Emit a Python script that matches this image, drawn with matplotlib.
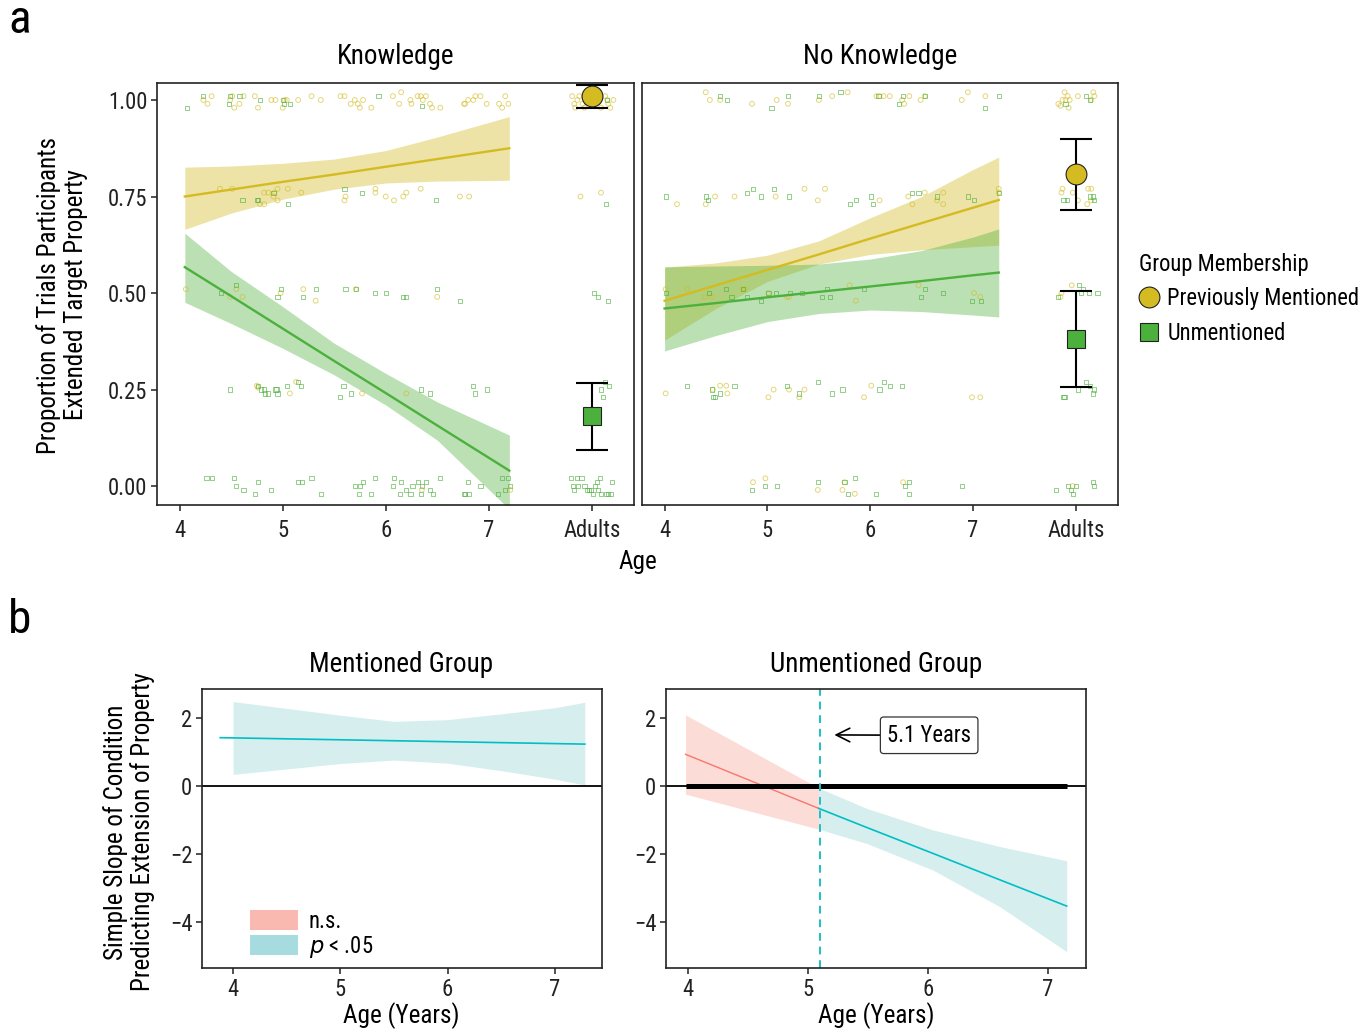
import matplotlib
matplotlib.use('Agg')
import matplotlib.pyplot as plt
from matplotlib import font_manager
from matplotlib.patches import Patch
from matplotlib.lines import Line2D

# the original uses a condensed grotesque; take the narrowest installed sans
installed = sorted({f.name for f in font_manager.fontManager.ttflist})
narrow = [n for n in ['Liberation Sans Narrow', 'Roboto Condensed', 'Open Sans Condensed',
                      'DejaVu Sans Condensed'] if n in installed]
narrow += [n for n in installed if ('Narrow' in n or 'Condensed' in n) and n not in narrow]
if narrow:
    FONT = narrow[0]
    FS = 0.93
else:
    FONT = 'Liberation Sans'
    FS = 0.82
plt.rcParams['font.family'] = [FONT, 'DejaVu Sans']

# ---------------- panel a: raw trials (jittered) ----------------
# Knowledge condition, previously mentioned (circles)
k_ment_x = [4.23, 4.27, 4.31, 4.49, 4.51, 4.53, 4.58, 4.62, 4.73, 4.76, 4.89, 4.93, 5.00, 5.02, 5.04, 5.15,
            5.28, 5.37, 5.56, 5.60, 5.66, 5.70, 5.73, 5.75, 5.78, 5.86, 6.07, 6.13, 6.15, 6.24, 6.25, 6.31,
            6.34, 6.36, 6.39, 6.43, 6.45, 6.53, 6.76, 6.77, 6.80, 6.85, 6.87, 6.92, 6.98, 7.10, 7.13, 7.16,
            7.19, 7.81, 7.83, 7.84, 7.86, 7.88, 7.91, 7.93, 7.96, 7.99, 8.03, 8.06, 8.09, 8.13, 8.15, 8.16,
            8.18, 8.21,
            4.39, 4.51, 4.82, 4.86, 4.91, 4.92, 4.95, 5.05, 5.18, 4.78, 4.82, 4.95, 5.60, 5.61, 5.90, 5.90,
            6.00, 6.08, 6.17, 6.20, 6.34, 6.72, 6.81, 7.89, 8.09,
            4.06, 4.49, 4.55, 4.61, 4.98, 5.20, 5.32, 5.71, 6.50,
            4.75, 4.76, 5.07, 5.13, 5.77, 6.20,
            6.35, 7.21]
k_ment_y = [1.00, 0.99, 1.01, 1.00, 1.01, 0.98, 0.99, 1.01, 1.01, 0.98, 1.00, 1.00, 0.98, 1.00, 1.00, 1.00,
            1.01, 1.00, 1.01, 1.01, 0.99, 1.00, 0.99, 0.98, 1.00, 0.98, 1.01, 0.99, 1.02, 1.00, 0.99, 1.01,
            1.01, 1.00, 1.01, 0.99, 0.98, 0.98, 0.99, 0.99, 1.00, 1.00, 1.01, 1.01, 0.99, 0.99, 0.98, 1.01,
            0.99, 1.01, 0.99, 0.98, 1.00, 1.01, 0.99, 0.98, 1.00, 1.01, 0.99, 1.00, 0.98, 1.01, 1.00, 0.99,
            0.98, 1.00,
            0.77, 0.77, 0.76, 0.76, 0.75, 0.76, 0.77, 0.77, 0.76, 0.73, 0.73, 0.74, 0.74, 0.75, 0.77, 0.76,
            0.75, 0.74, 0.75, 0.76, 0.77, 0.75, 0.75, 0.75, 0.76,
            0.51, 0.49, 0.51, 0.49, 0.50, 0.51, 0.48, 0.51, 0.49,
            0.26, 0.255, 0.24, 0.27, 0.24, 0.24,
            -0.01, -0.01]
# Knowledge condition, unmentioned (squares)
k_unm_x = [4.07, 4.23, 4.49, 4.48, 4.58, 4.78, 5.00, 5.01, 5.07, 5.93, 6.35, 8.15,
           4.61, 4.75, 4.76, 4.91, 5.05, 5.60, 5.77, 6.49, 8.14,
           4.40, 4.55, 4.95, 4.98, 5.20, 5.32, 5.61, 5.71, 5.90, 6.00, 6.17, 6.20, 6.50, 6.72, 8.02, 8.06, 8.16,
           4.49, 4.76, 4.79, 4.82, 4.83, 4.86, 4.93, 4.94, 4.95, 5.04, 5.15, 5.18, 5.56, 5.59, 5.66, 6.34,
           6.43, 6.85, 6.87, 6.98, 8.09, 8.11, 8.13, 8.17,
           4.26, 4.31, 4.53, 4.55, 4.62, 4.73, 4.76, 4.89, 5.15, 5.19, 5.28, 5.37, 5.70, 5.74, 5.75, 5.78,
           5.86, 5.90, 6.07, 6.08, 6.14, 6.15, 6.20, 6.24, 6.26, 6.31, 6.34, 6.35, 6.39, 6.43, 6.46, 6.53,
           6.76, 6.77, 6.80, 6.81, 6.92, 7.09, 7.13, 7.16, 7.19, 7.21, 7.80, 7.82, 7.83, 7.86, 7.87, 7.90,
           7.93, 7.95, 7.97, 7.99, 8.01, 8.03, 8.05, 8.06, 8.08, 8.09, 8.14, 8.16, 8.19, 8.20]
k_unm_y = [0.98, 1.01, 1.01, 0.99, 1.01, 1.00, 1.00, 0.99, 0.99, 1.01, 0.985, 1.00,
           0.74, 0.74, 0.74, 0.76, 0.73, 0.77, 0.76, 0.74, 0.73,
           0.50, 0.52, 0.49, 0.51, 0.49, 0.51, 0.51, 0.51, 0.50, 0.50, 0.49, 0.49, 0.51, 0.48, 0.50, 0.49, 0.48,
           0.25, 0.26, 0.25, 0.25, 0.24, 0.24, 0.25, 0.25, 0.24, 0.26, 0.27, 0.26, 0.23, 0.26, 0.24, 0.25,
           0.24, 0.26, 0.24, 0.25, 0.25, 0.23, 0.27, 0.26,
           0.02, 0.02, 0.02, 0.00, -0.01, -0.02, 0.01, -0.01, 0.01, 0.01, 0.02, -0.02, 0.00, -0.02, 0.00, 0.01,
           -0.02, 0.02, 0.00, 0.02, -0.02, 0.01, -0.01, -0.02, 0.00, 0.01, -0.02, 0.00, 0.01, -0.01, -0.02, 0.02,
           -0.02, -0.02, 0.01, -0.02, 0.00, -0.02, 0.02, -0.01, 0.02, 0.00, 0.02, 0.00, -0.01, 0.02, 0.00, 0.02,
           0.00, -0.01, -0.01, -0.01, -0.02, 0.00, 0.01, -0.01, 0.02, -0.02, -0.02, -0.02, -0.02, 0.01]

# No Knowledge condition, previously mentioned (circles)
nk_ment_x = [4.40, 4.44, 4.54, 4.85, 5.09, 5.20, 5.50, 5.63, 5.78, 6.06, 6.09, 6.13, 6.19, 6.31, 6.33, 6.38,
             6.49, 6.53, 6.89, 6.95, 7.12, 7.83, 7.85, 7.87, 7.89, 7.90, 7.92, 7.93, 7.94, 8.02, 8.15, 8.17, 8.18,
             4.12, 4.40, 4.49, 4.68, 5.08, 5.36, 5.49, 5.56, 6.09, 6.37, 6.41, 6.53, 6.71, 6.71, 6.65, 7.25,
             7.25, 7.87, 7.86, 7.97, 8.12, 8.15, 8.11, 8.15, 8.02,
             4.01, 4.22, 4.39, 4.46, 4.76, 4.78, 5.01, 5.19, 5.21, 5.80, 5.86, 6.47, 7.01, 7.07, 7.96, 7.85, 7.86,
             4.01, 4.47, 4.54, 4.60, 4.61, 5.01, 5.06, 5.21, 5.31, 5.36, 5.94, 6.01, 6.99, 7.07,
             4.86, 4.98, 5.49, 5.75, 5.73, 5.85, 6.32, 7.97]
nk_ment_y = [1.02, 1.00, 1.00, 0.99, 1.00, 0.99, 1.00, 1.01, 1.02, 1.01, 1.01, 1.01, 1.01, 1.00, 0.99, 1.01,
             1.00, 1.01, 1.00, 1.02, 1.01, 0.99, 0.985, 1.00, 1.02, 1.00, 1.01, 0.98, 1.00, 1.01, 1.00, 1.02, 1.01,
             0.73, 0.73, 0.75, 0.75, 0.75, 0.77, 0.74, 0.77, 0.74, 0.75, 0.73, 0.76, 0.76, 0.73, 0.74, 0.77,
             0.76, 0.77, 0.76, 0.76, 0.77, 0.77, 0.73, 0.74, 0.74,
             0.51, 0.51, 0.49, 0.49, 0.51, 0.51, 0.50, 0.49, 0.49, 0.52, 0.48, 0.52, 0.50, 0.49, 0.52, 0.49, 0.50,
             0.24, 0.25, 0.26, 0.26, 0.24, 0.23, 0.25, 0.25, 0.23, 0.25, 0.23, 0.26, 0.23, 0.23,
             0.01, 0.02, -0.01, 0.01, -0.01, -0.02, 0.01, 0.00]
# No Knowledge condition, unmentioned (squares)
nk_unm_x = [4.54, 4.61, 5.04, 5.20, 5.50, 5.71, 6.08, 6.28, 6.32, 6.53, 7.12, 7.25, 7.90, 8.10, 8.14,
            4.01, 4.40, 4.42, 4.80, 4.86, 4.94, 5.06, 5.21, 5.80, 5.86, 6.01, 6.03, 6.41, 6.47, 6.65, 6.95,
            7.01, 7.25, 7.88, 7.91, 8.14, 8.17, 8.18,
            4.01, 4.43, 4.60, 4.65, 4.76, 4.80, 4.94, 5.01, 5.08, 5.22, 5.34, 5.53, 5.58, 5.61, 5.94, 6.49,
            6.53, 6.71, 6.99, 7.08, 8.03, 8.07, 8.13, 8.05, 8.21, 7.83,
            4.22, 4.46, 4.47, 4.49, 4.54, 4.68, 5.19, 5.31, 5.49, 5.63, 5.73, 6.09, 6.13, 6.19, 6.31, 7.88,
            7.89, 8.10, 8.14, 8.02, 8.17, 8.18,
            4.85, 4.98, 5.09, 5.49, 5.75, 5.78, 5.85, 6.06, 6.34, 6.38, 6.38, 6.89, 7.81, 7.92, 7.95, 7.97,
            8.00, 8.17, 8.18]
nk_unm_y = [1.01, 1.00, 0.98, 1.01, 1.01, 1.02, 1.01, 0.99, 1.01, 1.01, 0.98, 1.01, 0.99, 1.01, 1.00,
            0.75, 0.75, 0.74, 0.76, 0.77, 0.75, 0.77, 0.75, 0.73, 0.74, 0.75, 0.73, 0.76, 0.76, 0.75, 0.75,
            0.74, 0.76, 0.74, 0.74, 0.75, 0.75, 0.74,
            0.50, 0.50, 0.51, 0.49, 0.51, 0.49, 0.48, 0.50, 0.50, 0.50, 0.50, 0.49, 0.51, 0.49, 0.51, 0.49,
            0.51, 0.50, 0.48, 0.48, 0.52, 0.51, 0.50, 0.50, 0.50, 0.49,
            0.26, 0.25, 0.23, 0.23, 0.24, 0.26, 0.26, 0.24, 0.27, 0.24, 0.25, 0.25, 0.27, 0.26, 0.26, 0.23,
            0.23, 0.27, 0.26, 0.25, 0.24, 0.25,
            -0.01, 0.00, 0.00, 0.01, 0.01, -0.02, 0.02, -0.02, 0.00, 0.01, -0.02, 0.00, -0.01, 0.00, -0.01, -0.02,
            0.00, 0.01, 0.00]

# model fits (logistic) with 95% bands
k_age = [4.05, 4.5, 5.0, 5.5, 6.0, 6.5, 7.2]
k_ment_fit = [0.75, 0.768, 0.788, 0.807, 0.827, 0.847, 0.875]
k_ment_lo = [0.665, 0.707, 0.743, 0.769, 0.785, 0.790, 0.792]
k_ment_hi = [0.826, 0.829, 0.836, 0.847, 0.869, 0.904, 0.957]
k_unm_fit = [0.567, 0.492, 0.408, 0.324, 0.241, 0.157, 0.040]
k_unm_lo = [0.476, 0.421, 0.357, 0.288, 0.210, 0.119, -0.060]
k_unm_hi = [0.655, 0.556, 0.465, 0.370, 0.292, 0.218, 0.132]

nk_age = [4.0, 4.5, 5.0, 5.5, 6.0, 6.5, 7.0, 7.25]
nk_ment_fit = [0.48, 0.52, 0.56, 0.60, 0.641, 0.681, 0.721, 0.741]
nk_ment_lo = [0.378, 0.46, 0.53, 0.575, 0.60, 0.612, 0.62, 0.624]
nk_ment_hi = [0.567, 0.578, 0.598, 0.635, 0.695, 0.75, 0.82, 0.852]
nk_unm_fit = [0.46, 0.474, 0.489, 0.503, 0.517, 0.531, 0.546, 0.553]
nk_unm_lo = [0.35, 0.39, 0.426, 0.447, 0.456, 0.452, 0.443, 0.438]
nk_unm_hi = [0.568, 0.57, 0.572, 0.575, 0.588, 0.61, 0.645, 0.666]

# adult means with error bars (mean, lower, upper)
k_adult_ment = (1.01, 0.98, 1.039)
k_adult_unm = (0.181, 0.093, 0.267)
nk_adult_ment = (0.808, 0.715, 0.899)
nk_adult_unm = (0.381, 0.256, 0.505)

# ---------------- panel b: simple slopes ----------------
bm_line_age = [3.88, 7.28]
bm_line_slope = [1.42, 1.23]
bm_band_age = [4.0, 4.5, 5.0, 5.5, 6.0, 6.5, 7.0, 7.28]
bm_band_lo = [0.34, 0.50, 0.66, 0.76, 0.67, 0.45, 0.20, 0.03]
bm_band_hi = [2.48, 2.28, 2.08, 1.90, 1.95, 2.12, 2.30, 2.46]

bu_ns_age = [3.98, 5.09]
bu_ns_slope = [0.93, -0.66]
bu_ns_lo = [-0.24, -1.27]
bu_ns_hi = [2.09, -0.06]
bu_sig_age = [5.09, 5.49, 6.04, 6.6, 7.156]
bu_sig_slope = [-0.66, -1.22, -1.98, -2.76, -3.53]
bu_sig_lo = [-1.27, -1.69, -2.47, -3.55, -4.87]
bu_sig_hi = [-0.06, -0.66, -1.29, -1.78, -2.20]
jn_point = 5.1
age_range = [3.98, 7.156]

age_ticks = [4, 5, 6, 7, 8]
age_labels = ['4', '5', '6', '7', 'Adults']
prop_ticks = [0.0, 0.25, 0.5, 0.75, 1.0]
prop_labels = ['0.00', '0.25', '0.50', '0.75', '1.00']
slope_ticks = [2, 0, -2, -4]

YEL = '#D4BB22'
GRN = '#4CB03C'
RED = '#F8766D'
TEAL = '#00BFC4'
RED_BAND = '#FCDCD6'
TEAL_BAND = '#D7EEEE'
SPINE = '#222222'

W, H = 1369, 1032
fig = plt.figure(figsize=(W / 100, H / 100), dpi=100)


def box(x0, y0, x1, y1):
    return [x0 / W, 1 - y1 / H, (x1 - x0) / W, (y1 - y0) / H]


def fx(px):
    return px / W


def fy(py):
    return 1 - py / H


def style(ax):
    for s in ax.spines.values():
        s.set_color(SPINE)
        s.set_linewidth(1.2)
    ax.tick_params(length=4, width=1.1, color=SPINE, labelsize=17.5 * FS, pad=3, labelcolor='#222222')


ax1 = fig.add_axes(box(157, 83, 634, 505))
ax2 = fig.add_axes(box(642, 83, 1118, 505))

panels = [
    (ax1, k_age, k_ment_fit, k_ment_lo, k_ment_hi, k_unm_fit, k_unm_lo, k_unm_hi,
     k_ment_x, k_ment_y, k_unm_x, k_unm_y, k_adult_ment, k_adult_unm),
    (ax2, nk_age, nk_ment_fit, nk_ment_lo, nk_ment_hi, nk_unm_fit, nk_unm_lo, nk_unm_hi,
     nk_ment_x, nk_ment_y, nk_unm_x, nk_unm_y, nk_adult_ment, nk_adult_unm),
]
for (ax, age, mf, ml, mh, uf, ul, uh, mx, my, ux, uy, am, au) in panels:
    ax.fill_between(age, ml, mh, color=YEL, alpha=0.4, lw=0, zorder=1)
    ax.fill_between(age, ul, uh, color=GRN, alpha=0.38, lw=0, zorder=1)
    ax.plot(age, mf, color=YEL, lw=1.7, zorder=3)
    ax.plot(age, uf, color=GRN, lw=1.7, zorder=3)
    ax.scatter(mx, my, s=12, marker='o', facecolors='none', edgecolors=YEL, linewidths=0.7, alpha=0.6, zorder=2)
    ax.scatter(ux, uy, s=9, marker='s', facecolors='none', edgecolors=GRN, linewidths=0.7, alpha=0.6, zorder=2)
    for vals, mk, col, ms in [(am, 'o', YEL, 15), (au, 's', GRN, 13.5)]:
        ax.errorbar([8], [vals[0]], yerr=[[vals[0] - vals[1]], [vals[2] - vals[0]]], fmt='none',
                    ecolor='black', elinewidth=1.5, capsize=11.5, capthick=1.5, zorder=5)
        ax.plot([8], [vals[0]], marker=mk, ms=ms, color=col, mec='#222222', mew=0.8, zorder=6)
    ax.set_xlim(3.78, 8.41)
    ax.set_ylim(-0.049, 1.044)
    ax.set_xticks(age_ticks)
    ax.set_xticklabels(age_labels)
    ax.set_yticks(prop_ticks)
    ax.set_yticklabels(prop_labels)
    style(ax)
    ax.tick_params(axis='x', pad=6)
ax2.tick_params(axis='y', left=False, labelleft=False)

fig.text(fx(396), fy(56), 'Knowledge', ha='center', va='center', fontsize=21 * FS)
fig.text(fx(880), fy(56), 'No Knowledge', ha='center', va='center', fontsize=21 * FS)
fig.text(fx(62), fy(295), 'Proportion of Trials Participants\nExtended Target Property',
         rotation=90, ha='center', va='center', fontsize=19.5 * FS, multialignment='center', linespacing=1.15)
fig.text(fx(638), fy(562), 'Age', ha='center', va='center', fontsize=19.5 * FS)
fig.text(fx(20), fy(20), 'a', ha='center', va='center', fontsize=34)
fig.text(fx(20), fy(620), 'b', ha='center', va='center', fontsize=34)

leg_handles = [Line2D([], [], ls='none', marker='o', ms=15, color=YEL, mec='#222222', mew=0.8),
               Line2D([], [], ls='none', marker='s', ms=13, color=GRN, mec='#222222', mew=0.8)]
leg = fig.legend(leg_handles, ['Previously Mentioned', 'Unmentioned'], title='Group Membership',
                 loc='upper left', bbox_to_anchor=(fx(1130), fy(244)), frameon=False, fontsize=17.5 * FS,
                 title_fontsize=17.5 * FS, handlelength=0.9, handletextpad=0.35, labelspacing=0.5,
                 borderpad=0.2, borderaxespad=0.2)
leg._legend_box.align = 'left'

# panel b
ax3 = fig.add_axes(box(202, 689, 602, 968))
ax4 = fig.add_axes(box(666, 689, 1086, 968))

ax3.fill_between(bm_band_age, bm_band_lo, bm_band_hi, color=TEAL_BAND, lw=0)
ax3.plot(bm_line_age, bm_line_slope, color=TEAL, lw=1.2)
ax3.axhline(0, color='black', lw=1.3)
ax3.set_xlim(3.71, 7.44)

ax4.fill_between(bu_ns_age, bu_ns_lo, bu_ns_hi, color=RED_BAND, lw=0)
ax4.fill_between(bu_sig_age, bu_sig_lo, bu_sig_hi, color=TEAL_BAND, lw=0)
ax4.plot(bu_ns_age, bu_ns_slope, color=RED, lw=1.0)
ax4.plot(bu_sig_age, bu_sig_slope, color=TEAL, lw=1.2)
ax4.axhline(0, color='black', lw=1.3)
ax4.plot(age_range, [0, 0], color='black', lw=3.6, solid_capstyle='butt')
ax4.axvline(jn_point, color='#1FBFC4', lw=1.4, ls=(0, (4, 3)))
ax4.annotate('5.1 Years', xy=(5.22, 1.5), xytext=(6.01, 1.49), ha='center', va='center', fontsize=17.5 * FS,
             bbox=dict(boxstyle='round,pad=0.3,rounding_size=0.15', fc='white', ec='#333333', lw=0.9),
             arrowprops=dict(arrowstyle='->,head_length=0.6,head_width=0.3', color='black', lw=1.2,
                             shrinkA=0, shrinkB=0))
ax4.set_xlim(3.817, 7.317)

for ax in (ax3, ax4):
    ax.set_ylim(-5.35, 2.85)
    ax.set_yticks(slope_ticks)
    ax.set_yticklabels(['2', '0', '\u22122', '\u22124'])
    ax.set_xticks([4, 5, 6, 7])
    style(ax)
    ax.tick_params(axis='x', pad=3)

fig.text(fx(401), fy(665), 'Mentioned Group', ha='center', va='center', fontsize=21 * FS)
fig.text(fx(876), fy(665), 'Unmentioned Group', ha='center', va='center', fontsize=21 * FS)
fig.text(fx(401), fy(1016), 'Age (Years)', ha='center', va='center', fontsize=19.5 * FS)
fig.text(fx(876), fy(1016), 'Age (Years)', ha='center', va='center', fontsize=19.5 * FS)
fig.text(fx(129), fy(832), 'Simple Slope of Condition\nPredicting Extension of Property',
         rotation=90, ha='center', va='center', fontsize=19.5 * FS, multialignment='center', linespacing=1.15)

ns_handles = [Patch(facecolor='#F9B9B0', lw=0), Patch(facecolor='#A6DBDF', lw=0)]
ax3.legend(ns_handles, ['n.s.', '$p$ < .05'], loc='lower left', bbox_to_anchor=(0.075, -0.035),
           frameon=False, fontsize=17.5 * FS, handlelength=2.1, handleheight=1.0, labelspacing=0.05,
           handletextpad=0.5, borderpad=0.3)

fig.savefig('out.png', dpi=100)
